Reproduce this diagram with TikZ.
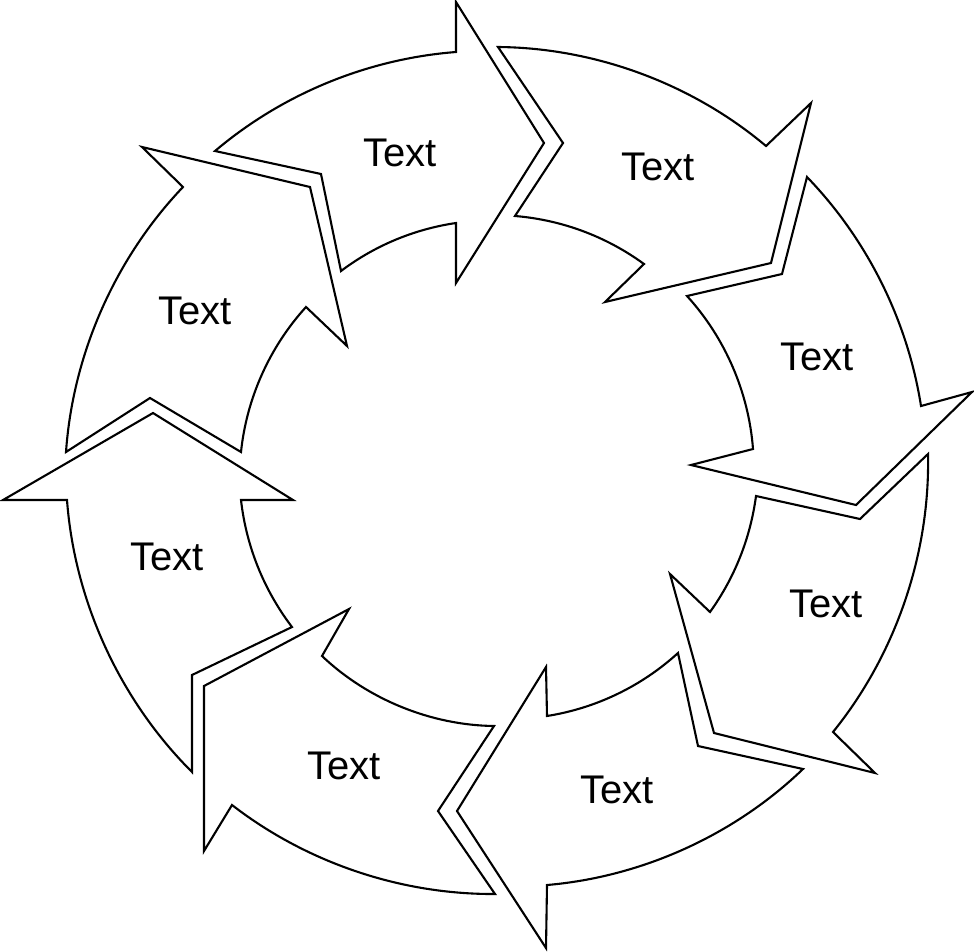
\documentclass[tikz,border=0pt]{standalone}
\usepackage{fontspec}
\setmainfont{Liberation Sans}
\begin{document}
\begin{tikzpicture}[x=1pt,y=-1pt,
  arr/.style={draw=black, line width=2.1pt, fill=white, line join=miter, miter limit=10},
  lbl/.style={font=\fontsize{40}{48}\selectfont, inner sep=0pt, anchor=center},
  bl/.style={bend left=#1, looseness=0.87},
  br/.style={bend right=#1, looseness=0.87}]
\fill[white] (0,0) rectangle (974,951);
\useasboundingbox (0,0) rectangle (974,951);

% A1 left, pointing up
\draw[arr] (192,772) -- (192,675) -- (292,627) to[bl=15.4] (241,500)
  -- (293,500) -- (153,413) -- (3,500) -- (67,500) to[br=20.4] (192,772) -- cycle;
% A2 top-left
\draw[arr] (66,452) -- (150,398) -- (241,452) to[bl=18.2] (306,307)
  -- (347,346) -- (310,187) -- (142,147) -- (183,187) to[br=19.8] (66,452) -- cycle;
% A3 top
\draw[arr] (215,151) -- (321,174) -- (341,271) to[bl=14.3] (456,223)
  -- (456,283) -- (544,143) -- (456,2) -- (456,52) to[br=17.9] (215,151) -- cycle;
% A4 top-right
\draw[arr] (498,47) -- (563,143) -- (515,216) to[bl=15.7] (644,264)
  -- (605,302) -- (771,263) -- (811,103) -- (766,146) to[br=19.8] (498,47) -- cycle;
% A5 right
\draw[arr] (807,177) -- (782,274) -- (687,296) to[bl=19] (753,449)
  -- (691,465) -- (856,505) -- (972,392) -- (921,406) to[br=17.5] (807,177) -- cycle;
% A6 lower right
\draw[arr] (928,454) -- (860,519) -- (756,496) to[bl=14] (710,612)
  -- (670,574) -- (714,733) -- (875,773) -- (833,732) to[br=20.1] (928,454) -- cycle;
% A7 bottom
\draw[arr] (803,769) -- (698,746) -- (678,653) to[bl=16.7] (547,716)
  -- (546,667) -- (457,811) -- (546,948) -- (547,885) to[br=19.5] (803,769) -- cycle;
% A8 bottom-left
\draw[arr] (495,894) -- (438,811) -- (494,726) to[bl=21.4] (322,656)
  -- (349,609) -- (204,686) -- (204,851) -- (232,805) to[br=19] (495,894) -- cycle;

\node[lbl] (t1) at (167,557) {Text};
\node[lbl] (t2) at (195,311) {Text};
\node[lbl] (t3) at (400,153) {Text};
\node[lbl] (t4) at (658,167) {Text};
\node[lbl] (t5) at (817,357) {Text};
\node[lbl] (t6) at (826,604) {Text};
\node[lbl] (t7) at (617,790) {Text};
\node[lbl] (t8) at (344,766) {Text};
\end{tikzpicture}
\end{document}
